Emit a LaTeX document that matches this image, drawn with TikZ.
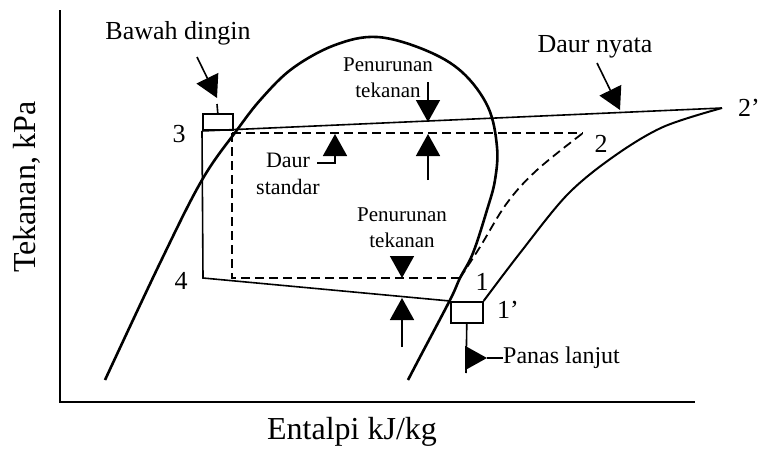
\documentclass[tikz,border=0pt]{standalone}
\usepackage{fontspec}
\setmainfont{Liberation Serif}
\usetikzlibrary{arrows.meta}

\tikzset{
    dome/.style={line width=2.6pt},
    cycleline/.style={line width=1.6pt},
    dashline/.style={line width=1.8pt, dash pattern=on 9pt off 5pt},
    lbl/.style={font=\fontsize{26}{30}\selectfont, inner sep=0pt},
    smalllbl/.style={font=\fontsize{21}{26}\selectfont, align=center, inner sep=0pt},
}

\begin{document}
\begin{tikzpicture}[x=1pt, y=-1pt, >={Triangle[length=22pt,width=24pt]}]
    \useasboundingbox (0,0) rectangle (763,450);
    % axes
    \draw[line width=2pt] (60,10) -- (60,402) -- (695,402);
    \node[font=\fontsize{32}{36}\selectfont, rotate=90] (ylab) at (27,187) {Tekanan, kPa};
    \node[font=\fontsize{32}{36}\selectfont] (xlab) at (352,432) {Entalpi kJ/kg};
    % saturation dome
    \draw[dome] plot[smooth, tension=0.6] coordinates {(105,380) (160,263) (202,180) (237,130) (262,98)
        (293,68) (335,45) (377,37) (425,50) (462,72) (488,107) (497,147) (495,180) (487,210)
        (473,253) (460,278) (450,300) (420,357) (408,380)};
    % points of the cycles
    \coordinate (p3) at (202,131);
    \coordinate (p4) at (203,278);
    \coordinate (p2a) at (722,108);
    \coordinate (p2) at (583,133);
    \coordinate (p1) at (460,278);
    \coordinate (q3) at (232,133);
    \coordinate (q4) at (232,278);
    \node[draw, line width=1.6pt, minimum width=30pt, minimum height=16pt, inner sep=0pt,
        anchor=south west] (sub) at (p3) {};
    \node[draw, line width=1.6pt, minimum width=32pt, minimum height=21pt, inner sep=0pt,
        anchor=north west] (sup) at (450,301) {};
    % real cycle
    \draw[cycleline] (p3) -- (p2a);
    \draw[cycleline] (p3) -- (p4) -- (sup.north west);
    \draw[line width=2pt] plot[smooth, tension=0.55] coordinates {(sup.north east) (520,253) (567,195)
        (613,157) (663,127) (p2a)};
    % standard cycle
    \draw[dashline] (q3) -- (p2);
    \draw[dashline] (q3) -- (q4) -- (p1);
    \draw[dashline] plot[smooth, tension=0.6] coordinates {(p1) (480,247) (507,203) (537,170) (p2)};
    % point labels
    \node[lbl] (n3) at (179,134) {3};
    \node[lbl] (n4) at (181,281) {4};
    \node[lbl] (n2) at (601,144) {2};
    \node[lbl] (n2a) at (749,108) {2’};
    \node[lbl] (n1) at (482,282) {1};
    \node[lbl] (n1a) at (508,310) {1’};
    % annotations
    \node[lbl] (bawah) at (178,33) {Bawah dingin};
    \draw[cycleline, ->] (197,57) -- (217,98);
    \draw[cycleline] (217,104) -- (sub.north);
    \node[lbl] (nyata) at (595,47) {Daur nyata};
    \draw[cycleline, ->] (597,63) -- (620,110);
    \node[smalllbl] (dp1) at (388,78) {Penurunan\\tekanan};
    \draw[cycleline, ->] (428,82) -- (428,122);
    \draw[cycleline, ->] (428,180) -- (428,134);
    \node[smalllbl] (dp2) at (402,228) {Penurunan\\tekanan};
    \draw[cycleline, ->] (402,256) -- (402,278);
    \draw[cycleline, ->] (402,347) -- (402,298);
    \node[font=\fontsize{22}{27}\selectfont, align=center, inner sep=0pt] (std) at (288,174) {Daur\\standar};
    \draw[cycleline, ->] (317,163) -| (335,134);
    \node[font=\fontsize{24}{28}\selectfont, inner sep=0pt, anchor=west] (panas) at (503,358) {Panas lanjut};
    \draw[cycleline] (sup.south) -- (466,373);
    \draw[cycleline, ->] (466,358) -- (487,358);
    \draw[cycleline] (487,358) -- (panas.west);
\end{tikzpicture}
\end{document}
